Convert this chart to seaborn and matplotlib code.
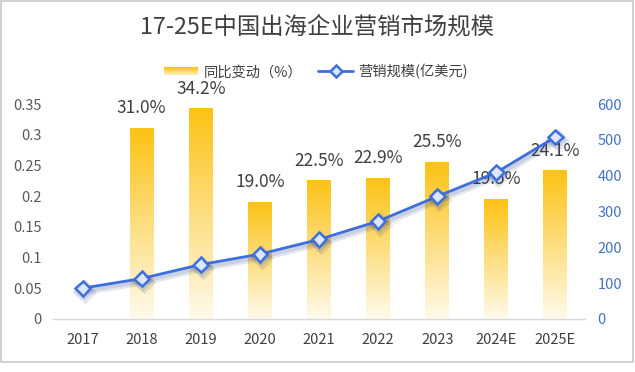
import numpy as np
import pandas as pd
import matplotlib
matplotlib.use('Agg')
import matplotlib.pyplot as plt
import seaborn as sns
from matplotlib.patches import Rectangle
from matplotlib.legend_handler import HandlerBase
from matplotlib.lines import Line2D
import matplotlib.patheffects as pe
from matplotlib.colors import LinearSegmentedColormap

# ---------------- data ----------------
years = ['2017', '2018', '2019', '2020', '2021', '2022', '2023', '2024E', '2025E']
growth = [np.nan, 0.310, 0.342, 0.190, 0.225, 0.229, 0.255, 0.195, 0.241]
market = [86, 113, 152, 181, 222, 273, 342, 409, 508]
left_ticks = [0, 0.05, 0.1, 0.15, 0.2, 0.25, 0.3, 0.35]
left_labels = ['0', '0.05', '0.1', '0.15', '0.2', '0.25', '0.3', '0.35']
right_ticks = [0, 100, 200, 300, 400, 500, 600]
title = '17-25E中国出海企业营销市场规模'
bar_name = '同比变动（%）'
line_name = '营销规模(亿美元)'

df = pd.DataFrame({'year': years, 'growth': growth, 'market': market})

# ---------------- style ----------------
sns.set_theme(style='white')
plt.rcParams['font.family'] = ['Noto Sans CJK SC', 'DejaVu Sans']

GOLD_TOP = '#FCC214'
GOLD_BOT = '#FFFAEC'
BLUE = '#3D6FE0'
TXT = '#404040'
TICK = '#595959'
RBLUE = '#4472C4'

fig = plt.figure(figsize=6.35 * np.array([1, 372 / 635]), dpi=100)
ax = fig.add_axes([53 / 635, 1 - 319 / 372, (585 - 53) / 635, (319 - 104) / 372])
ax2 = ax.twinx()

# bars
sns.barplot(data=df, x='year', y='growth', order=years, ax=ax, width=0.405,
            color=GOLD_TOP, errorbar=None, saturation=1)
cmap = LinearSegmentedColormap.from_list('g', [GOLD_BOT, GOLD_TOP])
grad = np.linspace(0, 1, 256).reshape(-1, 1)
for p in list(ax.patches):
    h = p.get_height()
    if not np.isfinite(h) or h <= 0:
        continue
    x0, w = p.get_x(), p.get_width()
    ax.imshow(grad, cmap=cmap, origin='lower', aspect='auto',
              extent=[x0, x0 + w, 0, h], zorder=2, interpolation='bilinear')
    p.set_facecolor('none')
    p.set_edgecolor('none')

for i, g in enumerate(growth):
    if np.isfinite(g):
        ax.annotate(f'{g * 100:.1f}%', (i, g), xytext=(0, 14.5), textcoords='offset points',
                    ha='center', va='center', fontsize=12.5, color=TXT, zorder=3)

ax.set_xlim(-0.5, len(years) - 0.5)
ax.set_ylim(0, 0.35)
ax.set_yticks(left_ticks)
ax.set_yticklabels(left_labels)
ax.set_xlabel('')
ax.set_ylabel('')
ax.tick_params(axis='y', length=0, labelsize=10.5, labelcolor=TICK, pad=8)
ax.tick_params(axis='x', length=0, labelsize=10.5, labelcolor=TXT, pad=10)
for s in ['top', 'left', 'right']:
    ax.spines[s].set_visible(False)
ax.spines['bottom'].set_color('#D9D9D9')
ax.spines['bottom'].set_linewidth(1.0)

# line
sns.lineplot(data=df, x='year', y='market', ax=ax2, sort=False, color=BLUE, linewidth=2,
             marker='D', markersize=7.5, markerfacecolor='#DDE7FB',
             markeredgecolor=BLUE, markeredgewidth=1.8, zorder=5)
for ln in ax2.lines:
    ln.set_path_effects([pe.SimpleLineShadow(offset=(1.5, -2.5), shadow_color='#1F3A80',
                                             alpha=0.12, linewidth=5),
                         pe.SimpleLineShadow(offset=(1.0, -2.0), shadow_color='#1F3A80',
                                             alpha=0.12, linewidth=3),
                         pe.Normal()])
ax2.set_ylim(0, 600)
ax2.set_xlim(-0.5, len(years) - 0.5)
ax2.set_yticks(right_ticks)
ax2.set_yticklabels([str(t) for t in right_ticks])
ax2.set_ylabel('')
ax2.tick_params(axis='y', length=0, labelsize=10.5, labelcolor=RBLUE, pad=9)
for s in ax2.spines.values():
    s.set_visible(False)
ax2.grid(False)
ax.grid(False)

# legend with gradient patch
class HandlerGradient(HandlerBase):
    def create_artists(self, legend, orig_handle, xdescent, ydescent, width, height, fontsize, trans):
        arts = []
        n = 8
        hh = height * 0.75
        y0 = -ydescent + (height - hh) / 2
        for k in range(n):
            c = cmap(1 - k / (n - 1) * 0.75)
            r = Rectangle((-xdescent, y0 + hh - (k + 1) * hh / n), width, hh / n + 0.05,
                          facecolor=c, edgecolor='none', transform=trans)
            arts.append(r)
        return arts

bar_handle = Rectangle((0, 0), 1, 1)
line_handle = Line2D([], [], color=BLUE, lw=2, marker='D', markersize=6.5,
                     markerfacecolor='#DDE7FB', markeredgecolor=BLUE, markeredgewidth=1.8)
fig.legend([bar_handle, line_handle], [bar_name, line_name], loc='center',
           bbox_to_anchor=(316 / 635, 1 - 71.5 / 372), ncol=2, frameon=False,
           fontsize=10.3, handlelength=2.4, handletextpad=0.4, columnspacing=1.1,
           handler_map={Rectangle: HandlerGradient()}, labelcolor=TXT)

fig.text(317 / 635, 1 - 27 / 372, title, ha='center', va='center', fontsize=16.8, color=TXT)

# outer border
fig.patches.append(Rectangle((1 / 635, 1 - 362 / 372), 632 / 635, 361 / 372,
                             transform=fig.transFigure, fill=False, edgecolor='#C8C8C8',
                             linewidth=1.2))

fig.savefig('out.png', dpi=100, facecolor='white')
